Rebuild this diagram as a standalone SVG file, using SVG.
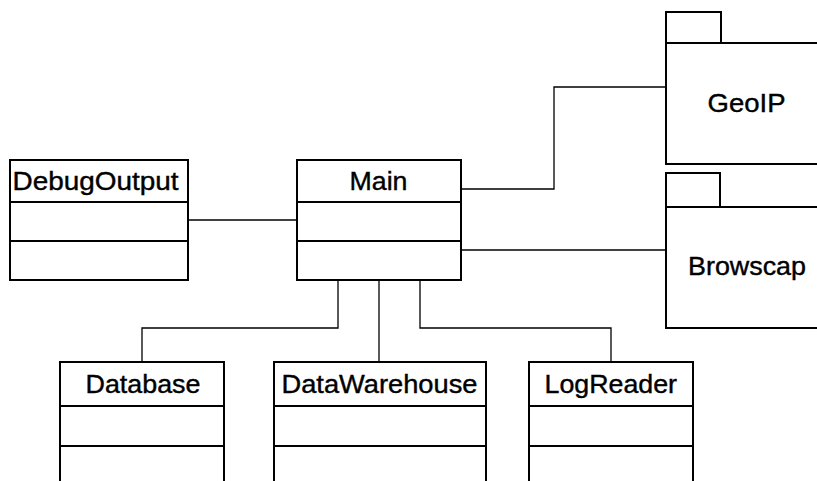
<svg xmlns="http://www.w3.org/2000/svg" width="817" height="481" viewBox="0 0 817 481">
  <style>
    .box { fill: #ffffff; stroke: #000000; stroke-width: 2; }
    .div { stroke: #000000; stroke-width: 2; fill: none; }
    .edge { stroke: #000000; stroke-width: 1.3; fill: none; }
    .lbl { font-family: "Liberation Sans", Arial, Helvetica, sans-serif; font-size: 26px; fill: #000000; stroke: #000000; stroke-width: 0.4; }
  </style>
  <rect width="817" height="481" fill="#ffffff"/>

  <!-- associations -->
  <g id="connectors">
    <path class="edge" d="M188,220 H297"/>
    <path class="edge" d="M461,189 H554 V87 H666"/>
    <path class="edge" d="M461,250 H666"/>
    <path class="edge" d="M338,280 V328 H142 V362"/>
    <path class="edge" d="M379,280 V362"/>
    <path class="edge" d="M420,280 V328 H611 V362"/>
  </g>

  <g id="DebugOutput">
    <rect class="box" x="10" y="160" width="178" height="120"/>
    <path class="div" d="M10,202 H188 M10,241 H188"/>
    <text class="lbl" x="12.5" y="190" textLength="166" lengthAdjust="spacingAndGlyphs">DebugOutput</text>
  </g>

  <g id="Main">
    <rect class="box" x="297" y="160" width="164" height="120"/>
    <path class="div" d="M297,202 H461 M297,241 H461"/>
    <text class="lbl" x="349.5" y="190" textLength="58" lengthAdjust="spacingAndGlyphs">Main</text>
  </g>

  <g id="GeoIP">
    <rect class="box" x="666" y="12" width="55" height="31"/>
    <rect class="box" x="666" y="43" width="170" height="121"/>
    <text class="lbl" x="707.5" y="112" textLength="78" lengthAdjust="spacingAndGlyphs">GeoIP</text>
  </g>

  <g id="Browscap">
    <rect class="box" x="666" y="173" width="54" height="34"/>
    <rect class="box" x="666" y="207" width="170" height="121"/>
    <text class="lbl" x="688" y="275" textLength="118" lengthAdjust="spacingAndGlyphs">Browscap</text>
  </g>

  <g id="Database">
    <rect class="box" x="60" y="362" width="164" height="140"/>
    <path class="div" d="M60,406 H224 M60,446 H224"/>
    <text class="lbl" x="85.5" y="393" textLength="115" lengthAdjust="spacingAndGlyphs">Database</text>
  </g>

  <g id="DataWarehouse">
    <rect class="box" x="274" y="362" width="212" height="140"/>
    <path class="div" d="M274,406 H486 M274,446 H486"/>
    <text class="lbl" x="281.5" y="393" textLength="196" lengthAdjust="spacingAndGlyphs">DataWarehouse</text>
  </g>

  <g id="LogReader">
    <rect class="box" x="529" y="362" width="164" height="140"/>
    <path class="div" d="M529,406 H693 M529,446 H693"/>
    <text class="lbl" x="544.5" y="393" textLength="132.5" lengthAdjust="spacingAndGlyphs">LogReader</text>
  </g>
</svg>
